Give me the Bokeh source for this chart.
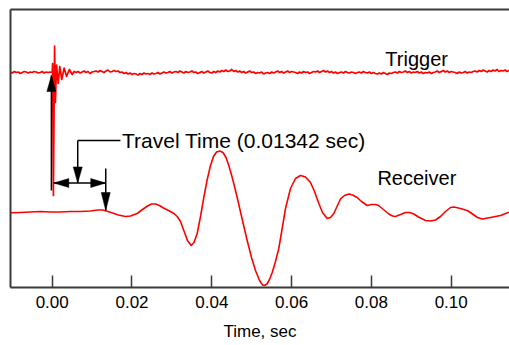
from bokeh.plotting import figure
from bokeh.models import LinearAxis, FixedTicker, Range1d
from bokeh.embed import file_html
from bokeh.resources import INLINE
from bokeh.core.properties import value

# ---------------- data ----------------
receiver_t = [-0.01045, -0.00794, -0.00544, -0.00293, -0.00043, 0.00208, 0.00459, 0.00709, 0.00960, 0.01135,
              0.01261, 0.01378, 0.01511, 0.01662, 0.01837, 0.01962, 0.02130, 0.02263, 0.02388, 0.02489,
              0.02589, 0.02689, 0.02789, 0.02890, 0.03008, 0.03065, 0.03133, 0.03216, 0.03298, 0.03391,
              0.03484, 0.03554, 0.03634, 0.03717, 0.03800, 0.03880, 0.03967, 0.04043, 0.04118, 0.04201,
              0.04281, 0.04356, 0.04426, 0.04519, 0.04637, 0.04757, 0.04887, 0.04995, 0.05095, 0.05196,
              0.05271, 0.05321, 0.05383, 0.05446, 0.05514, 0.05596, 0.05679, 0.05764, 0.05847, 0.05972,
              0.06098, 0.06223, 0.06348, 0.06474, 0.06574, 0.06682, 0.06774, 0.06892, 0.06975, 0.07058,
              0.07150, 0.07226, 0.07326, 0.07439, 0.07526, 0.07644, 0.07752, 0.07895, 0.08003, 0.08103,
              0.08178, 0.08303, 0.08436, 0.08529, 0.08604, 0.08729, 0.08855, 0.08955, 0.09063, 0.09180,
              0.09356, 0.09481, 0.09607, 0.09732, 0.09857, 0.09982, 0.10070, 0.10233, 0.10401, 0.10534,
              0.10659, 0.10777, 0.10985, 0.11235, 0.11444]
receiver_y = [-0.006, 0.00, 0.01, 0.02, 0.01, 0.01, 0.02, 0.02, 0.03, 0.05,
              0.05, 0.026, -0.01, -0.05, -0.08, -0.07, -0.02, 0.06, 0.13, 0.17,
              0.17, 0.14, 0.09, 0.05, 0.00, -0.03, -0.08, -0.18, -0.36, -0.56,
              -0.66, -0.60, -0.42, -0.08, 0.30, 0.64, 0.94, 1.12, 1.21, 1.23,
              1.20, 1.10, 0.94, 0.68, 0.30, -0.12, -0.56, -0.90, -1.16, -1.36,
              -1.45, -1.46, -1.43, -1.34, -1.20, -0.98, -0.72, -0.32, 0.08, 0.48,
              0.68, 0.74, 0.71, 0.60, 0.42, 0.18, 0.00, -0.12, -0.10, -0.02,
              0.14, 0.27, 0.34, 0.37, 0.35, 0.30, 0.22, 0.14, 0.16, 0.16,
              0.14, 0.06, -0.03, -0.07, -0.08, -0.04, 0.00, 0.00, -0.03, -0.09,
              -0.16, -0.17, -0.15, -0.08, 0.02, 0.10, 0.11, 0.08, 0.04, -0.03,
              -0.10, -0.13, -0.10, -0.06, 0.006]

trigger_level = 2.80
trigger_step = 0.0005
trigger_pre_start = -0.0105
trigger_pre = [0.01, -0.01, 0.02, 0.00, 0.01, -0.02, 0.00, 0.02, 0.01, -0.01, 0.01,
               0.00, 0.02, 0.01, -0.01, 0.00, 0.02, -0.01, 0.01, 0.00, 0.01, 0.00]
spike_t = [0.0001, 0.0003, 0.0006, 0.0008, 0.0011, 0.0015, 0.0019, 0.0024, 0.0030,
           0.0036, 0.0043, 0.0050, 0.0055]
spike_y = [2.98, 0.34, 3.33, 2.20, 2.95, 2.58, 2.92, 2.66, 2.89,
           2.72, 2.86, 2.76, 2.82]
trigger_post_start = 0.0060
trigger_post = [
    0.00, 0.02, -0.01, 0.01, 0.03, 0.00, 0.02, -0.02, 0.01, 0.02,
    0.03, 0.01, 0.04, 0.02, 0.00, 0.03, 0.05, 0.01, 0.02, 0.04,
    0.02, 0.03, 0.00, 0.01, -0.02, 0.00, -0.03, -0.01, -0.04, -0.02,
    -0.03, -0.05, -0.02, -0.04, -0.01, -0.03, -0.02, -0.04, -0.01, -0.03,
    -0.02, 0.00, -0.03, -0.01, 0.01, -0.01, 0.00, 0.02, -0.01, 0.01,
    0.02, 0.00, 0.03, 0.01, -0.01, 0.02, 0.00, 0.01, 0.03, 0.00,
    0.01, -0.02, 0.00, 0.02, -0.01, 0.01, 0.03, 0.00, -0.01, 0.02,
    0.00, 0.03, 0.01, 0.04, 0.02, 0.05, 0.02, 0.03, 0.06, 0.02,
    0.04, 0.01, 0.03, 0.00, 0.02, -0.01, 0.01, 0.03, 0.00, 0.01,
    -0.02, 0.00, -0.01, 0.01, -0.03, -0.01, 0.00, -0.02, 0.01, -0.01,
    0.01, 0.03, 0.00, 0.02, -0.01, 0.01, 0.03, 0.00, 0.02, 0.01,
    0.00, -0.02, 0.01, -0.01, 0.02, 0.00, 0.01, -0.02, 0.00, 0.02,
    0.01, 0.03, 0.00, 0.02, 0.04, 0.01, 0.03, 0.00, 0.02, -0.01,
    0.01, -0.02, 0.00, 0.01, -0.01, 0.02, 0.00, -0.01, 0.01, 0.00,
    -0.02, 0.00, 0.01, -0.01, 0.02, 0.00, -0.01, 0.01, -0.02, 0.00,
    -0.02, -0.03, -0.01, -0.03, 0.00, -0.02, -0.04, -0.01, -0.02, 0.00,
    0.01, -0.01, 0.02, 0.00, 0.01, 0.03, 0.00, 0.02, -0.01, 0.01,
    0.00, 0.02, -0.01, 0.01, -0.02, 0.00, -0.01, 0.01, -0.02, 0.00,
    0.01, 0.03, 0.00, 0.02, 0.04, 0.01, 0.03, 0.00, 0.02, 0.01,
    0.00, -0.02, 0.01, -0.01, 0.00, 0.02, -0.01, 0.01, 0.00, 0.02,
    0.03, 0.01, 0.04, 0.02, 0.05, 0.03, 0.01, 0.04, 0.02, 0.05,
    0.03, 0.06, 0.02, 0.04, 0.03, 0.05, 0.02, 0.04]

tick_values = [0.00, 0.02, 0.04, 0.06, 0.08, 0.10]
tick_labels = ["0.00", "0.02", "0.04", "0.06", "0.08", "0.10"]

travel_time = 0.01342
trigger_arrow_t = -0.0002
trigger_arrow_y = [0.44, 2.74]
receiver_arrow_y = [0.88, 0.04]
span_arrow_t = [0.0004, travel_time]
span_arrow_y = 0.59
leader_t = [0.0064, 0.0171]
leader_y = 1.44
label_travel = "Travel Time (%.5f sec)" % travel_time
label_travel_t = 0.0175
label_trigger = "Trigger"
label_trigger_pos = (0.0835, 3.08)
label_receiver = "Receiver"
label_receiver_pos = (0.0815, 0.70)

# ---------------- layout ----------------
x_start, x_end = -0.01045, 0.11461
y_start, y_end = -1.50, 4.06
W, H = 509, 345
B_LEFT, B_RIGHT, B_TOP, B_BOTTOM = 10, 0, 9, 58
frame_w = W - B_LEFT - B_RIGHT
frame_h = H - B_TOP - B_BOTTOM
sx = (x_end - x_start) / frame_w
sy = (y_end - y_start) / frame_h

FONT = "Liberation Sans"
AX = "#3a3a3a"

p = figure(width=W, height=H, x_range=Range1d(x_start, x_end), y_range=Range1d(y_start, y_end),
           output_backend="svg", toolbar_location=None, y_axis_location=None,
           min_border_left=B_LEFT, min_border_right=B_RIGHT, min_border_top=B_TOP,
           min_border_bottom=B_BOTTOM)
p.grid.visible = False
p.outline_line_color = None
p.background_fill_color = "white"
p.border_fill_color = "white"

xa = p.xaxis[0]
xa.ticker = FixedTicker(ticks=tick_values)
xa.major_label_overrides = {v: l for v, l in zip(tick_values, tick_labels)}
xa.minor_tick_line_color = None
xa.major_tick_in = 12
xa.major_tick_out = 0
xa.major_tick_line_width = 1.5
xa.major_tick_line_color = AX
xa.axis_line_color = AX
xa.axis_line_width = 2
xa.major_label_text_font = FONT
xa.major_label_text_font_size = "17px"
xa.major_label_text_color = "black"
xa.major_label_standoff = 8
xa.axis_label = "Time, sec"
xa.axis_label_text_font = FONT
xa.axis_label_text_font_size = "17px"
xa.axis_label_text_font_style = "normal"
xa.axis_label_text_color = "black"
xa.axis_label_standoff = 11

for loc in ("left", "above"):
    ax = LinearAxis(ticker=FixedTicker(ticks=[]), axis_line_color=AX, axis_line_width=2,
                    major_tick_line_color=None, minor_tick_line_color=None,
                    major_label_text_font_size="0px", major_tick_in=0, major_tick_out=0)
    p.add_layout(ax, loc)

# ---------------- traces ----------------
trig_t = [trigger_pre_start + i * trigger_step for i in range(len(trigger_pre))] + spike_t + \
         [trigger_post_start + i * trigger_step for i in range(len(trigger_post))]
trig_y = [trigger_level + v for v in trigger_pre] + spike_y + [trigger_level + v for v in trigger_post]
p.line(trig_t, trig_y, line_color="#ff0000", line_width=1.7, line_join="round")
p.line(receiver_t, receiver_y, line_color="#ff0000", line_width=1.6, line_join="round")

# ---------------- annotation arrows ----------------
def head(tx, ty, d, length, half):
    if d == "up":
        return [tx, tx - half * sx, tx + half * sx], [ty, ty - length * sy, ty - length * sy]
    if d == "down":
        return [tx, tx - half * sx, tx + half * sx], [ty, ty + length * sy, ty + length * sy]
    if d == "left":
        return [tx, tx + length * sx, tx + length * sx], [ty, ty - half * sy, ty + half * sy]
    return [tx, tx - length * sx, tx - length * sx], [ty, ty - half * sy, ty + half * sy]

seg_x0 = [trigger_arrow_t, travel_time, span_arrow_t[0], leader_t[0], leader_t[0]]
seg_y0 = [trigger_arrow_y[0], receiver_arrow_y[0], span_arrow_y, leader_y, leader_y]
seg_x1 = [trigger_arrow_t, travel_time, span_arrow_t[1], leader_t[0], leader_t[1]]
seg_y1 = [trigger_arrow_y[1], receiver_arrow_y[1], span_arrow_y, span_arrow_y, leader_y]
p.segment(seg_x0, seg_y0, seg_x1, seg_y1, line_color="black", line_width=1.5)

heads = [head(trigger_arrow_t, trigger_arrow_y[1], "up", 16, 4.5),
         head(travel_time, receiver_arrow_y[1], "down", 18, 4.5),
         head(span_arrow_t[0], span_arrow_y, "left", 15, 4.5),
         head(span_arrow_t[1], span_arrow_y, "right", 15, 4.5),
         head(leader_t[0], span_arrow_y, "down", 16, 4.5)]
p.patches([h[0] for h in heads], [h[1] for h in heads], fill_color="black", line_color="black",
          line_width=0.5)

# ---------------- labels ----------------
p.text([label_travel_t], [leader_y], text=[label_travel], text_font=value(FONT),
       text_font_size="21px", text_baseline="middle", text_align="left", text_color="black")
p.text([label_trigger_pos[0], label_receiver_pos[0]], [label_trigger_pos[1], label_receiver_pos[1]],
       text=[label_trigger, label_receiver], text_font=value(FONT), text_font_size="20px",
       text_baseline="middle", text_align="left", text_color="black")

open("out.html", "w").write(file_html(p, INLINE))
